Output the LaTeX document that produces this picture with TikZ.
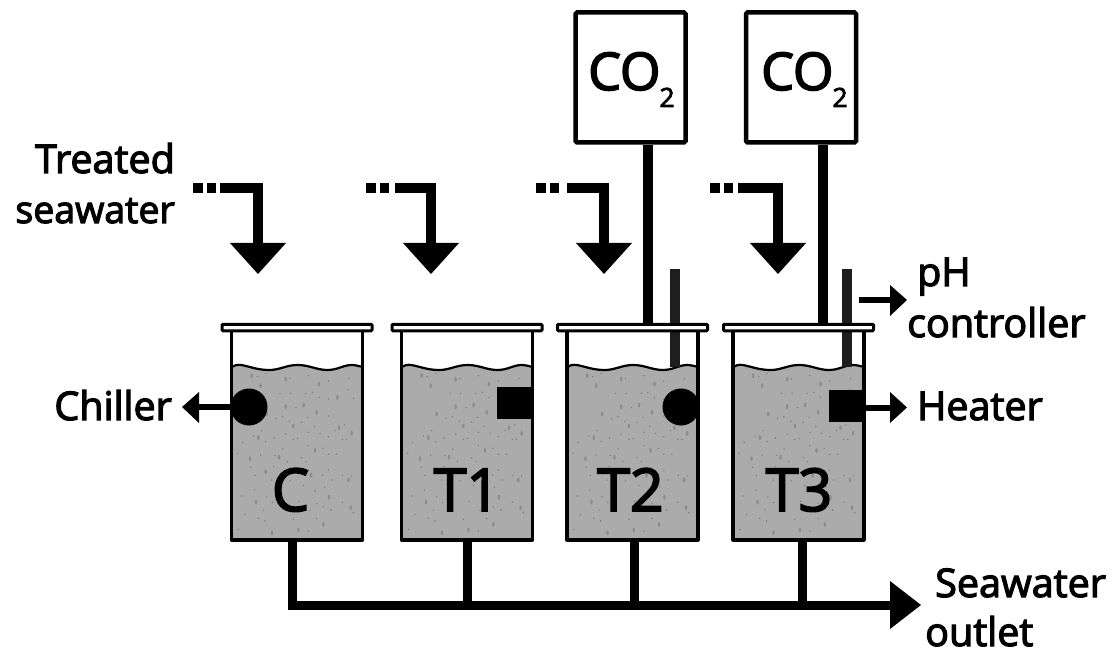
\documentclass[tikz,border=0pt]{standalone}
\usepackage{fontspec}
\setmainfont[FakeBold=3,Kerning=Off]{Open Sans}
\usetikzlibrary{calc}
\definecolor{water}{HTML}{ABABAB}
\definecolor{speck}{HTML}{7C7C7C}
\definecolor{speckb}{HTML}{8E8E8E}
\definecolor{probe}{HTML}{1E1E1E}
\tikzset{
  big/.style={font=\fontsize{39.5}{39.5}\selectfont, inner sep=0pt},
  tanklabel/.style={font=\fontsize{59}{59}\selectfont, inner sep=0pt, anchor=base},
  co2box/.style={draw=black, line width=4.5pt, rounded corners=1.5pt, fill=white, minimum width=110pt, minimum height=130pt, inner sep=0pt},
  co2text/.style={font=\fontsize{52}{52}\selectfont, inner sep=0pt, anchor=base west},
  feed/.style={line width=10pt, line cap=butt},
  pipe/.style={line width=10pt},
  drain/.style={line width=9pt},
  probebar/.style={line width=9.5pt, draw=probe},
  thin arrow/.style={line width=6pt},
  lid/.style={draw=black, line width=3pt, fill=white, rounded corners=1pt, minimum width=150pt, minimum height=6.5pt, inner sep=0pt},
  wall/.style={line width=3.2pt, draw=black, line join=round},
  device/.style={fill=black, draw=none, inner sep=0pt},
}
\newcommand{\surfacepath}{(0,367) .. controls (3,365) and (6,364.5) .. (10,365)
      .. controls (20,367) and (26,370) .. (38,370)
      .. controls (48,370) and (55,365) .. (66,365)
      .. controls (78,365) and (85,370) .. (96,370)
      .. controls (106,370) and (112,365) .. (120,365)
      .. controls (124,365) and (127,366) .. (131,367)}
\newcommand{\cotwo}{CO\hspace{-1pt}\raisebox{-17pt}{\fontsize{26.5}{26.5}\selectfont 2}}
% #1 name  #2 left wall x
\newcommand{\tank}[2]{%
  \begin{scope}[shift={(#2,0)}]
    \fill[water] \surfacepath -- (131,540) -- (0,540) -- cycle;
    \foreach \px/\py in {80/47,107/77,182/58,282/72,337/112,182/140,236/135,275/157,125/162,205/198,342/203,380/220,100/233,75/296,162/292,270/271,122/335,258/346,370/360,312/412,93/426,377/443,295/493,220/510,141/518}
      \fill[speckb] ({\px/3-6.5},{360+\py/3}) ellipse[x radius=1.3, y radius=2.5];
    \foreach \px/\py in {97/50,122/40,195/56,250/47,310/63,372/55,370/88,165/100,197/100,242/100,262/97,282/113,310/117,386/115,213/143,310/168,153/175,172/170,193/184,230/187,248/172,268/200,358/195,330/212,110/212,85/228,182/222,205/238,218/235,250/217,285/220,310/230,352/238,364/238,53/247,122/245,147/234,250/256,38/280,107/285,150/286,173/267,293/265,310/283,334/283,230/293,243/305,78/322,146/320,187/305,310/330,90/347,140/360,195/362,293/346,322/360,353/347,380/348,235/376,298/381,270/393,88/390,50/408,124/411,142/428,222/424,275/431,295/440,352/427,318/450,116/450,255/452,385/458,60/463,100/475,120/483,205/478,275/476,40/508,250/513}
      \fill[speck] ({\px/3-6.5},{360+\py/3}) circle[radius=0.8];
    \draw[line width=2.2pt] \surfacepath;
    \draw[wall] (0,330) -- (0,540) -- (131,540) -- (131,330);
    \coordinate (lidpos#1) at (65.5,327.5);
  \end{scope}}
% #1 name, #2 x of dashes start, #3 x of the solid part, #4 x of vertical
\newcommand{\feedarrow}[4]{%
  \coordinate (f#1a) at (#2,188);
  \coordinate (f#1b) at (#3,188);
  \coordinate (f#1c) at (#4,188);
  \coordinate (f#1d) at (#4,244);
  \draw[feed] (f#1a) -- ++(10,0);
  \draw[feed] ($(f#1a)+(14,0)$) -- ++(9,0);
  \draw[feed] (f#1b) -- (f#1c) -- (f#1d);
  \fill (#4-28,243) -- (#4+28,243) -- (#4,274) -- cycle;
}
\begin{document}
\begin{tikzpicture}[x=1pt,y=-1pt]
\useasboundingbox (0,0) rectangle (1113,652);

\node[co2box] (co2a) at (630.5,77.5) {};
\node[co2box] (co2b) at (801,77.5) {};
\node[co2text] (co2atext) at (588,90) {\cotwo};
\node[co2text] (co2btext) at (761,90) {\cotwo};

\tank{C}{231.5}
\tank{A}{401.5}
\tank{B}{567}
\tank{D}{733}

\node[tanklabel] (lblC) at (290.5,511) {C};
\node[tanklabel] (lblA) at (467,511) {T1};
\node[tanklabel] (lblB) at (630.5,511) {T2};
\node[tanklabel] (lblD) at (799,511) {T3};

% CO2 lines
\coordinate (gasA) at (648,324);
\coordinate (gasB) at (823,324);
\draw[pipe] (co2a.south -| gasA) -- (gasA);
\draw[pipe] (co2b.south -| gasB) -- (gasB);

% probes
\coordinate (probeAtop) at (675,269);
\coordinate (probeAend) at (675,367);
\coordinate (probeBtop) at (847,269);
\coordinate (probeBend) at (847,367);
\draw[probebar] (probeAtop) -- (probeAend);
\draw[probebar] (probeBtop) -- (probeBend);

% lids on top of pipes and probes
\node[lid] (lidC) at (lidposC) {};
\node[lid] (lidA) at (lidposA) {};
\node[lid] (lidB) at (lidposB) {};
\node[lid] (lidD) at (lidposD) {};

% feed arrows
\feedarrow{C}{193}{220}{258}
\feedarrow{A}{366}{395}{431}
\feedarrow{B}{536}{567}{604}
\feedarrow{D}{710}{738}{778}

% devices
\node[device, circle, minimum size=37pt] (devC) at (249,407) {};
\node[device, circle, minimum size=37pt] (devB) at (681,407) {};
\node[device, minimum width=36pt, minimum height=32pt] (devA) at (515,403) {};
\node[device, minimum width=36pt, minimum height=32pt] (devD) at (847,406) {};

% side arrows
\coordinate (chillTip) at (182,407);
\coordinate (heatTip) at (907,407.5);
\coordinate (phTail) at (859,300);
\coordinate (phTip) at (907,300);
\draw[thin arrow] (devC.west) -- (197,407);
\fill (chillTip) -- (199,392) -- (199,423) -- cycle;
\draw[thin arrow] (864,407.5) -- (892,407.5);
\fill (heatTip) -- (890,392) -- (890,423) -- cycle;
\draw[thin arrow] (phTail) -- (892,300);
\fill (phTip) -- (890,285) -- (890,316) -- cycle;

% outlet
\coordinate (outTip) at (921,605);
\coordinate (outElbow) at (292,605);
\draw[drain] (292,540) -- (outElbow) -- (892,605);
\draw[drain] (467,540) -- (467,605);
\draw[drain] (634,540) -- (634,605);
\draw[drain] (802,540) -- (802,605);
\fill (outTip) -- (890,581) -- (890,629) -- cycle;

% labels
\node[big, anchor=base east] (lblFeedA) at (175,173) {Treated};
\node[big, anchor=base east, font=\fontsize{37.5}{37.5}\selectfont] (lblFeedB) at (175,223) {seawater};
\node[big, anchor=base east] (lblChill) at (172,420) {Chiller};
\node[big, anchor=base west] (lblHeat) at (917,420) {Heater};
\node[big, anchor=base west] (lblPhA) at (917,286) {pH};
\node[big, anchor=base west] (lblPhB) at (907,337) {controller};
\node[big, anchor=base west] (lblOutA) at (935,597) {Seawater};
\node[big, anchor=base west] (lblOutB) at (925,646) {outlet};
\end{tikzpicture}
\end{document}
